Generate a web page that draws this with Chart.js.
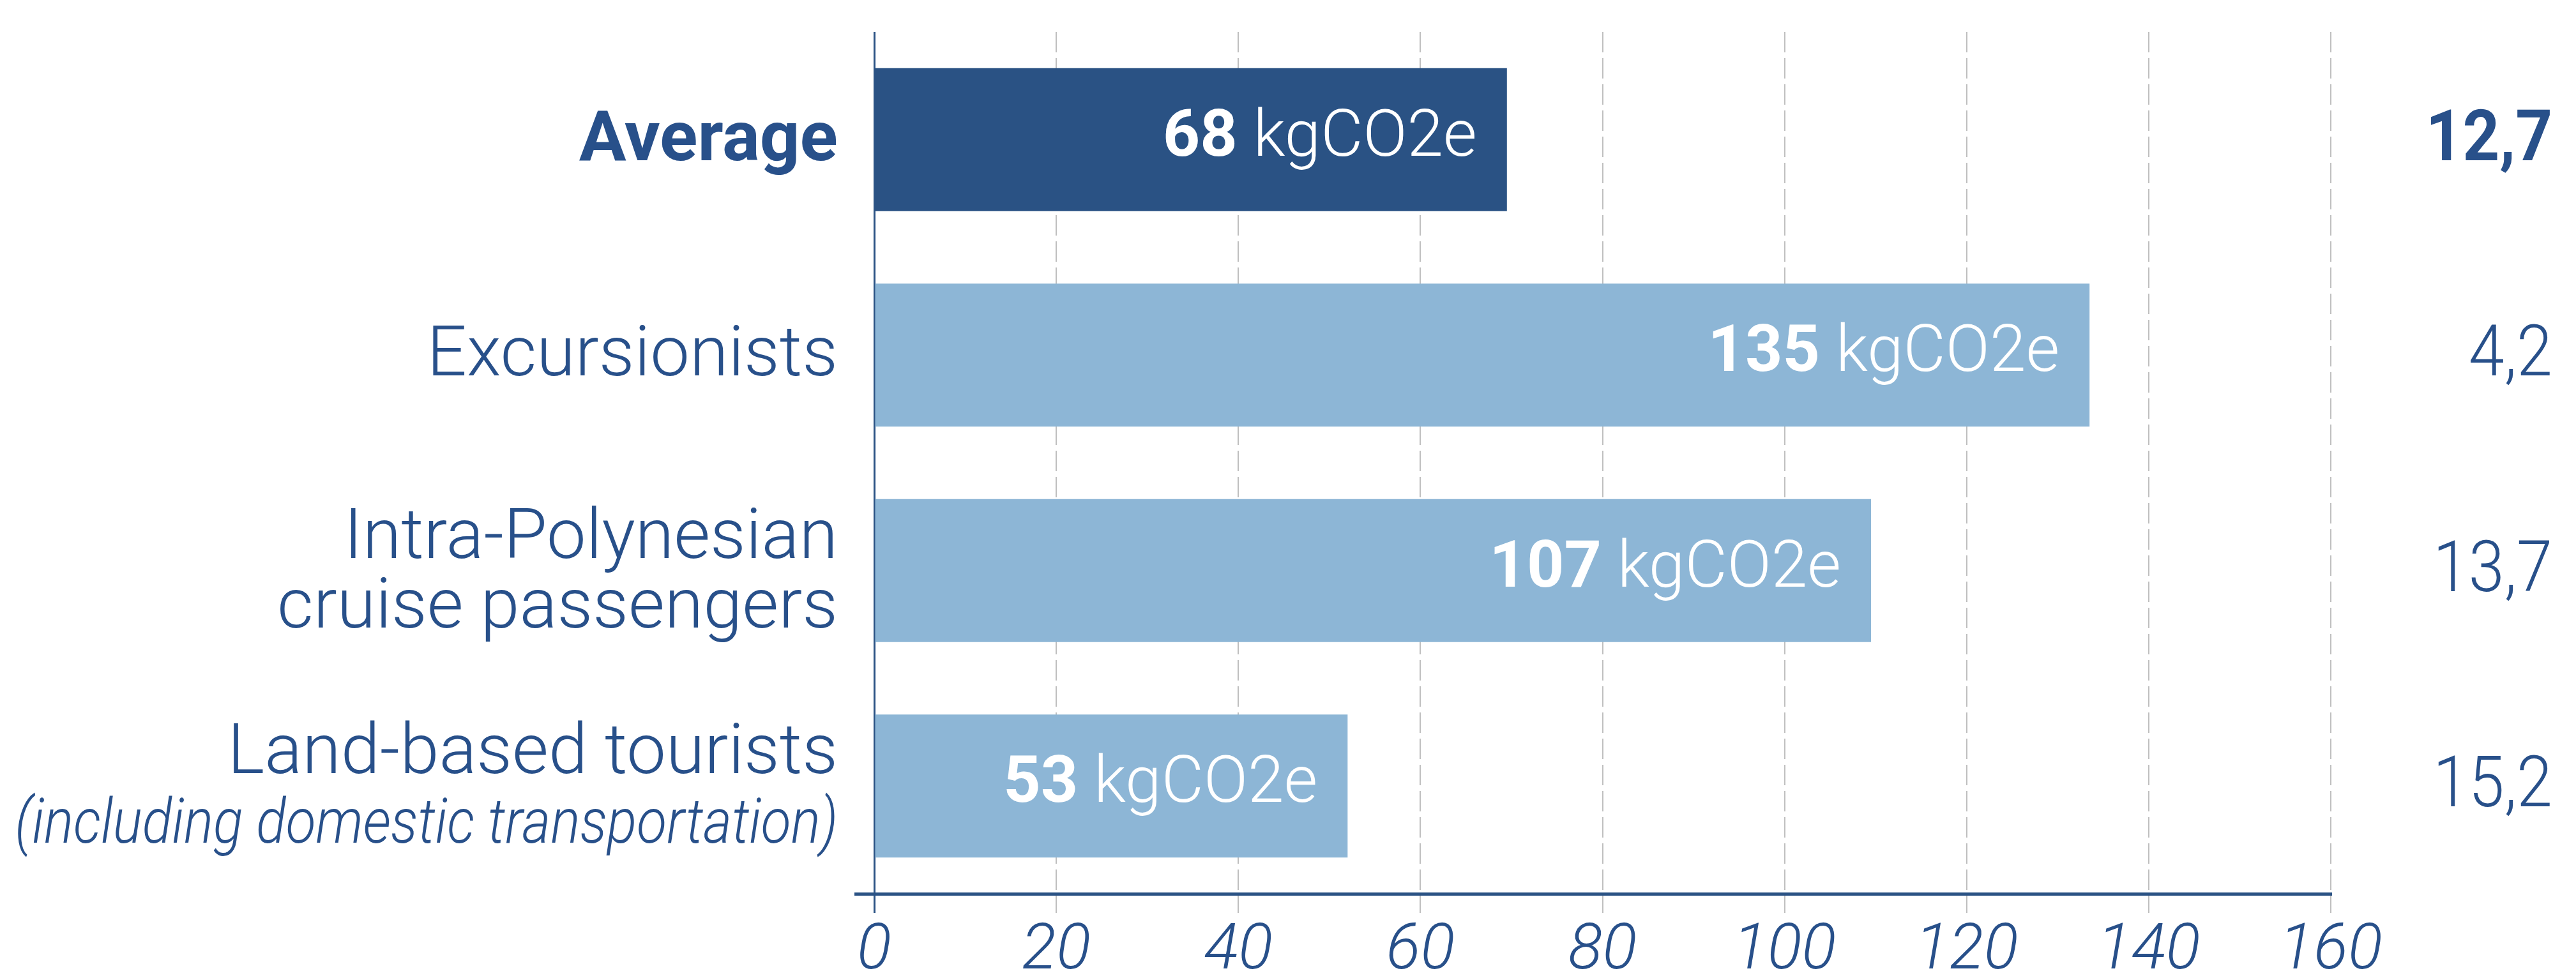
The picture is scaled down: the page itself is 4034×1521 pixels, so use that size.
<!DOCTYPE html>
<html>
<head>
<meta charset="utf-8">
<script src="https://cdn.jsdelivr.net/npm/chart.js@4.4.1/dist/chart.umd.min.js"></script>
<style>
  html, body { margin: 0; padding: 0; background: #ffffff; }
  #wrap { width: 4034px; height: 1521px; position: relative; }
</style>
</head>
<body>
<div id="wrap"><canvas id="chart"></canvas></div>
<script>
// ---------- data ----------
const categories = [
  ['Average'],
  ['Excursionists'],
  ['Intra-Polynesian', 'cruise passengers'],
  ['Land-based tourists', '(including domestic transportation)']
];
// bar lengths as drawn in the picture (kgCO2e)
const barValues = [69.5, 133.5, 109.5, 52];
// values printed inside the bars (kgCO2e)
const labelValues = [68, 135, 107, 53];
const labelUnit = 'kgCO2e';
// values printed in the right-hand column
const sideValues = [12.7, 4.2, 13.7, 15.2];
// x-axis ticks
const xTicks = [0, 20, 40, 60, 80, 100, 120, 140, 160];

// ---------- style ----------
const DARK = '#2a5284';
const LIGHT = '#8db6d6';
const TEXT = '#28508a';
const GRID = '#bfbfbf';
const FONT = 'Roboto, "Open Sans", sans-serif';

function fmtComma(v) { return v.toFixed(1).replace('.', ','); }

function drawText(ctx, text, x, y, font, align, sx) {
  ctx.save();
  ctx.font = font;
  ctx.textBaseline = 'alphabetic';
  ctx.textAlign = align;
  ctx.translate(x, y);
  ctx.scale(sx, 1);
  ctx.fillText(text, 0, 0);
  ctx.restore();
}

const labelsPlugin = {
  id: 'labelsPlugin',
  afterDatasetsDraw(chart) {
    const ctx = chart.ctx;
    const meta = chart.getDatasetMeta(0);
    const yScale = chart.scales.y;
    // values inside bars
    meta.data.forEach((bar, i) => {
      const right = bar.x - 47;
      const base = bar.y + 25;
      ctx.save();
      ctx.fillStyle = '#ffffff';
      const boldFont = '700 102px ' + FONT;
      const lightFont = '300 102px ' + FONT;
      ctx.font = lightFont;
      const unitText = ' ' + labelUnit;
      const wUnit = ctx.measureText(unitText).width;
      drawText(ctx, unitText, right, base, lightFont, 'right', 1);
      drawText(ctx, String(labelValues[i]), right - wUnit, base, boldFont, 'right', 1);
      ctx.restore();
    });
    // category labels (left) and side values (right)
    categories.forEach((lines, i) => {
      const cy = yScale.getPixelForValue(i);
      ctx.save();
      ctx.fillStyle = TEXT;
      const weight = i === 0 ? 700 : 300;
      if (lines.length === 1) {
        drawText(ctx, lines[0], 1312, cy + 32, weight + ' 110px ' + FONT, 'right', 1);
      } else {
        lines.forEach((ln, k) => {
          const italic = ln.startsWith('(');
          const font = italic ? 'italic 300 98px ' + FONT : weight + ' 110px ' + FONT;
          const base = k === 0 ? cy - 20 : cy + 89;
          drawText(ctx, ln, 1312, base, font, 'right', italic ? 0.88 : 1);
        });
      }
      const sideWeight = i === 0 ? 700 : 300;
      drawText(ctx, fmtComma(sideValues[i]), 3997, cy + 32, sideWeight + ' 112px ' + FONT, 'right', 0.9);
      ctx.restore();
    });
  }
};

const ctxEl = document.getElementById('chart');
new Chart(ctxEl, {
  type: 'bar',
  data: {
    labels: categories,
    datasets: [{
      data: barValues,
      backgroundColor: barValues.map((v, i) => i === 0 ? DARK : LIGHT),
      borderWidth: 0,
      barPercentage: 0.664,
      categoryPercentage: 1.0
    }]
  },
  options: {
    indexAxis: 'y',
    responsive: true,
    maintainAspectRatio: false,
    animation: false,
    devicePixelRatio: 1,
    layout: { padding: { top: 50, right: 384, bottom: 0, left: 0 } },
    plugins: { legend: { display: false }, tooltip: { enabled: false } },
    scales: {
      x: {
        type: 'linear',
        min: 0,
        max: 160,
        afterBuildTicks(scale) { scale.ticks = xTicks.map(v => ({ value: v })); },
        afterFit(scale) { scale.height = 121; },
        ticks: {
          color: TEXT,
          font: { family: FONT, size: 100, style: 'italic', weight: 300 },
          padding: 2,
          maxRotation: 0,
          autoSkip: false
        },
        grid: {
          color: (c) => c.index === 0 ? DARK : GRID,
          lineWidth: (c) => c.index === 0 ? 3 : 2,
          tickLength: 30,
          drawTicks: true,
          tickBorderDash: (c) => c.index === 0 ? [] : [32, 9]
        },
        border: {
          display: true,
          color: DARK,
          width: 5,
          dash: (c) => c.index === 0 ? [] : [32, 9]
        }
      },
      y: {
        type: 'category',
        afterFit(scale) { scale.width = 1369; },
        ticks: { display: false },
        grid: {
          display: true,
          drawOnChartArea: false,
          drawTicks: true,
          tickLength: 31,
          offset: true,
          color: (c) => c.index === undefined ? DARK : 'rgba(0,0,0,0)',
          lineWidth: (c) => c.index === undefined ? 5 : 1
        },
        border: { display: false }
      }
    }
  },
  plugins: [labelsPlugin]
});
</script>
</body>
</html>
